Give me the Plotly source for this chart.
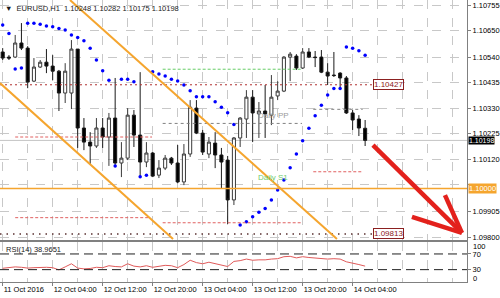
import plotly.graph_objects as go

# ---------------- data ----------------
bars = list(range(59))  # hourly bars, 11 Oct 20:00 -> 14 Oct 06:00

open_ = [1.10562, 1.10541, 1.10541, 1.10599, 1.10578, 1.10442, 1.10500, 1.10520, 1.10504, 1.10483,
         1.10393, 1.10393, 1.10574, 1.10249, 1.10191, 1.10175, 1.10249, 1.10212, 1.10290, 1.10105,
         1.10125, 1.10302, 1.10220, 1.10109, 1.10146, 1.10055, 1.10084, 1.10125, 1.10105, 1.10027,
         1.10142, 1.10331, 1.10228, 1.10142, 1.10187, 1.10138, 1.10117, 1.09953, 1.10208, 1.10286,
         1.10376, 1.10307, 1.10319, 1.10302, 1.10381, 1.10401, 1.10541, 1.10545, 1.10496, 1.10562,
         1.10541, 1.10541, 1.10479, 1.10467, 1.10475, 1.10455, 1.10311, 1.10286, 1.10248]
high = [1.10578, 1.10549, 1.10632, 1.10681, 1.10586, 1.10537, 1.10529, 1.10574, 1.10549, 1.10488,
        1.10516, 1.10611, 1.10574, 1.10290, 1.10232, 1.10290, 1.10290, 1.10311, 1.10455, 1.10191,
        1.10331, 1.10323, 1.10479, 1.10191, 1.10150, 1.10117, 1.10138, 1.10130, 1.10179, 1.10183,
        1.10364, 1.10364, 1.10241, 1.10212, 1.10232, 1.10167, 1.10134, 1.10212, 1.10294, 1.10405,
        1.10405, 1.10356, 1.10426, 1.10467, 1.10442, 1.10545, 1.10562, 1.10553, 1.10578, 1.10578,
        1.10566, 1.10570, 1.10516, 1.10562, 1.10479, 1.10463, 1.10323, 1.10302, 1.10282]
low = [1.10529, 1.10529, 1.10537, 1.10570, 1.10413, 1.10438, 1.10496, 1.10475, 1.10446, 1.10319,
       1.10352, 1.10327, 1.10167, 1.10158, 1.10101, 1.10167, 1.10167, 1.10093, 1.10088, 1.10047,
       1.10117, 1.10171, 1.10047, 1.10088, 1.10047, 1.10043, 1.10076, 1.10097, 1.10022, 1.10014,
       1.10130, 1.10224, 1.10138, 1.10125, 1.10084, 1.10002, 1.09854, 1.09932, 1.10171, 1.10208,
       1.10191, 1.10208, 1.10208, 1.10261, 1.10364, 1.10397, 1.10442, 1.10488, 1.10492, 1.10537,
       1.10500, 1.10475, 1.10426, 1.10459, 1.10413, 1.10307, 1.10241, 1.10216, 1.10175]
close = [1.10537, 1.10537, 1.10599, 1.10578, 1.10438, 1.10500, 1.10520, 1.10504, 1.10483, 1.10393,
         1.10483, 1.10574, 1.10249, 1.10191, 1.10175, 1.10249, 1.10212, 1.10290, 1.10105, 1.10125,
         1.10302, 1.10220, 1.10109, 1.10146, 1.10051, 1.10084, 1.10125, 1.10105, 1.10027, 1.10142,
         1.10335, 1.10228, 1.10150, 1.10191, 1.10138, 1.10109, 1.09953, 1.10208, 1.10290, 1.10376,
         1.10311, 1.10319, 1.10307, 1.10376, 1.10401, 1.10541, 1.10553, 1.10496, 1.10562, 1.10541,
         1.10539, 1.10479, 1.10463, 1.10465, 1.10455, 1.10311, 1.10282, 1.10249, 1.10198]

sar = [1.10673, 1.10638, 1.10492, 1.10496, 1.10680, 1.10680, 1.10676, 1.10669, 1.10666, 1.10659,
       1.10652, 1.10632, 1.10622, 1.10608, 1.10577, 1.10529, 1.10485, 1.10446, 1.10093, 1.10450,
       1.10450, 1.10439, 1.10048, 1.10055, 1.10481, 1.10471, 1.10463, 1.10450, 1.10443, 1.10426,
       1.10402, 1.10378, 1.10378, 1.10378, 1.10357, 1.10335, 1.10312, 1.10264, 1.09850, 1.09863,
       1.09884, 1.09902, 1.09918, 1.09953, 1.09994, 1.10035, 1.10085, 1.10142, 1.10197, 1.10248,
       1.10299, 1.10343, 1.10385, 1.10412, 1.10412, 1.10583, 1.10577, 1.10567, 1.10549]

rsi = [33.5, 35.0, 37.0, 36.0, 34.0, 35.0, 36.0, 36.0, 35.0, 29.5,
       37.0, 45.0, 34.0, 32.0, 33.0, 36.0, 35.0, 40.0, 38.0, 37.0,
       45.0, 39.0, 37.0, 40.0, 36.0, 39.0, 41.0, 40.0, 35.0, 43.0,
       54.0, 48.0, 45.0, 49.0, 45.0, 43.0, 38.0, 51.0, 53.0, 57.0,
       54.0, 55.0, 55.0, 57.0, 58.0, 63.0, 64.0, 60.0, 63.0, 61.0,
       60.0, 58.0, 57.0, 58.0, 57.0, 50.0, 47.0, 43.0, 38.9651]

price_ticks = [1.10755, 1.10650, 1.10540, 1.10435, 1.10330, 1.10225, 1.10120, 1.10015, 1.09905, 1.09800]
hidden_price_ticks = [1.10015]  # covered by the 1.10000 price label in the reference
time_tick_bars = [0, 8, 16, 24, 32, 40, 48, 56]
time_tick_text = ["11 Oct 2016", "12 Oct 04:00", "12 Oct 12:00", "12 Oct 20:00",
                  "13 Oct 04:00", "13 Oct 12:00", "13 Oct 20:00", "14 Oct 04:00"]
rsi_ticks = [30, 70]
rsi_edge_ticks = [100, 0]
rsi_levels = [70, 30]

header = "▼  EURUSD,H1  1.10248 1.10282 1.10175 1.10198"
bid_price = 1.10198
round_level = 1.10000
hline_upper = 1.10427
hline_lower = 1.09813
# daily pivot segments: (start bar, end bar, price)
red_pivots = [(2.0, 23.9, 1.10212), (2.0, 23.6, 1.09880), (25.6, 47.9, 1.09859), (49.7, 57.6, 1.10069)]
gray_pivots = [(25.6, 47.9, 1.10268), (49.7, 57.6, 1.10326)]
green_pivots = [(25.6, 47.9, 1.10491)]
# channel lines (bar, price) pairs
channel_lines = [((-0.43, 1.10434), (27.26, 1.09792)), ((10.77, 1.10776), (53.49, 1.09792))]
arrow_segments = [((59.25, 1.10179), (73.49, 1.09817)),
                  ((70.77, 1.09973), (73.49, 1.09817)),
                  ((65.49, 1.09883), (73.49, 1.09817))]

X_RANGE = [-0.43, 74.3]
P_RANGE = [1.09788, 1.10776]
R_RANGE = [-1.5, 100.6]

FONT = "Liberation Sans, Arial, sans-serif"
ORANGE = "#f5a52e"

fig = go.Figure()
fig.add_trace(go.Candlestick(
    x=bars, open=open_, high=high, low=low, close=close,
    xaxis="x", yaxis="y", whiskerwidth=0,
    increasing=dict(line=dict(color="#3a3a3a", width=1), fillcolor="#ffffff"),
    decreasing=dict(line=dict(color="#1a1a1a", width=1), fillcolor="#000000"),
    showlegend=False, hoverinfo="skip"))
fig.add_trace(go.Scatter(x=bars, y=sar, mode="markers", xaxis="x", yaxis="y",
                         marker=dict(color="#0000ff", size=3.5), showlegend=False, hoverinfo="skip"))
fig.add_trace(go.Scatter(x=bars, y=rsi, mode="lines", xaxis="x2", yaxis="y2",
                         line=dict(color="#e05a5a", width=1), showlegend=False, hoverinfo="skip"))

shapes = []
shapes.append(dict(type="line", xref="x domain", yref="y", x0=0, x1=1, y0=bid_price, y1=bid_price,
                   line=dict(color="#c4c4c4", width=1), layer="below"))
shapes.append(dict(type="line", xref="x domain", yref="y", x0=0, x1=1, y0=round_level, y1=round_level,
                   line=dict(color=ORANGE, width=1.5)))
shapes.append(dict(type="line", xref="x", yref="y", x0=X_RANGE[0], x1=59.2, y0=hline_upper, y1=hline_upper,
                   line=dict(color="#b03030", width=1, dash="2px,3px")))
shapes.append(dict(type="line", xref="x", yref="y", x0=X_RANGE[0], x1=59.2, y0=hline_lower, y1=hline_lower,
                   line=dict(color="#5a3030", width=1.5, dash="1.5px,5px")))
for x0, x1, p in red_pivots:
    shapes.append(dict(type="line", xref="x", yref="y", x0=x0, x1=x1, y0=p, y1=p,
                       line=dict(color="#e06060", width=1, dash="3px,2px")))
for x0, x1, p in gray_pivots:
    shapes.append(dict(type="line", xref="x", yref="y", x0=x0, x1=x1, y0=p, y1=p,
                       line=dict(color="#808080", width=1, dash="3px,3px")))
for x0, x1, p in green_pivots:
    shapes.append(dict(type="line", xref="x", yref="y", x0=x0, x1=x1, y0=p, y1=p,
                       line=dict(color="#66cc66", width=1, dash="3px,2px")))
for (xa, pa), (xb, pb) in channel_lines:
    shapes.append(dict(type="line", xref="x", yref="y", x0=xa, y0=pa, x1=xb, y1=pb,
                       line=dict(color=ORANGE, width=2)))
for (xa, pa), (xb, pb) in arrow_segments:
    shapes.append(dict(type="line", xref="x", yref="y", x0=xa, y0=pa, x1=xb, y1=pb,
                       line=dict(color="#e3211c", width=4.5)))
for lv in rsi_levels:
    shapes.append(dict(type="line", xref="x2 domain", yref="y2", x0=0, x1=1, y0=lv, y1=lv,
                       line=dict(color="#202020", width=1, dash="9px,5px")))

axis_font = dict(family=FONT, size=7.5, color="#000000")
annotations = []
annotations.append(dict(text=header, xref="paper", yref="paper", x=0.006, y=1, xanchor="left", yanchor="top",
                        yshift=-2, showarrow=False, font=dict(family=FONT, size=7.5, color="#1a1a1a")))
annotations.append(dict(text=f"{bid_price:.5f}", xref="x domain", yref="y", x=1, y=bid_price,
                        xanchor="left", yanchor="middle", xshift=1, showarrow=False, bgcolor="#000000",
                        borderpad=0, font=dict(family=FONT, size=7, color="#ffffff")))
annotations.append(dict(text=f"{round_level:.5f}", xref="x domain", yref="y", x=1, y=round_level,
                        xanchor="left", yanchor="middle", xshift=1, showarrow=False, bgcolor=ORANGE,
                        borderpad=0, font=dict(family=FONT, size=7.5, color="#ffffff")))
for p in (hline_upper, hline_lower):
    annotations.append(dict(text=f"{p:.5f}", xref="x", yref="y", x=59.2, y=p, xanchor="left",
                            yanchor="middle", showarrow=False, bgcolor="#ffffff", bordercolor="#8b2020",
                            borderwidth=1, borderpad=0, font=dict(family=FONT, size=8, color="#8b2020")))
annotations.append(dict(text="Daily PP", xref="x", yref="y", x=40.5, y=1.10302, xanchor="left",
                        yanchor="middle", showarrow=False, font=dict(family=FONT, size=8, color="#9a9a9a")))
annotations.append(dict(text="Daily S1", xref="x", yref="y", x=40.5, y=1.10047, xanchor="left",
                        yanchor="middle", showarrow=False, font=dict(family=FONT, size=8, color="#70cc70")))
annotations.append(dict(text=f"RSI(14) {rsi[-1]:.4f}", xref="x2 domain", yref="y2 domain", x=0.008, y=1,
                        xanchor="left", yanchor="top", yshift=-1, showarrow=False,
                        font=dict(family=FONT, size=7.5, color="#1a1a1a")))
# RSI 100 / 0 labels sit just inside the panel edges, as in the reference
annotations.append(dict(text=str(rsi_edge_ticks[0]), xref="x2 domain", yref="y2", x=1, y=rsi_edge_ticks[0],
                        xanchor="left", yanchor="middle", xshift=4, yshift=-4, showarrow=False, font=axis_font))
annotations.append(dict(text=str(rsi_edge_ticks[1]), xref="x2 domain", yref="y2", x=1, y=rsi_edge_ticks[1],
                        xanchor="left", yanchor="middle", xshift=4, yshift=3, showarrow=False, font=axis_font))

fig.update_layout(
    width=500, height=298, margin=dict(l=0, r=0, t=0, b=0, autoexpand=False),
    paper_bgcolor="#ffffff", plot_bgcolor="#ffffff", showlegend=False,
    shapes=shapes, annotations=annotations,
    xaxis=dict(domain=[0, 0.934], range=X_RANGE, anchor="y", rangeslider=dict(visible=False),
               tickvals=time_tick_bars, showticklabels=False, ticks="", showgrid=True,
               gridcolor="#c8c8c8", griddash="dash", zeroline=False, automargin=False,
               minor=dict(dtick=4, tick0=0, showgrid=True, gridcolor="#c8c8c8", griddash="dash"),
               showline=True, linecolor="#808080", mirror=True, fixedrange=True),
    yaxis=dict(domain=[0.1946, 1], range=P_RANGE, anchor="x", side="right",
               tickvals=price_ticks,
               ticktext=["" if p in hidden_price_ticks else f"{p:.5f}" for p in price_ticks],
               ticks="outside", ticklen=3, tickcolor="#808080", tickfont=axis_font, automargin=False,
               showgrid=True, gridcolor="#c8c8c8", griddash="dash", zeroline=False,
               showline=True, linecolor="#808080", mirror=True, fixedrange=True),
    xaxis2=dict(domain=[0, 0.934], range=X_RANGE, anchor="y2", matches="x",
                tickvals=time_tick_bars, ticktext=time_tick_text, ticks="outside", ticklen=3,
                tickangle=0, automargin=False,
                tickcolor="#808080", tickfont=axis_font, ticklabelposition="outside right",
                showgrid=True, gridcolor="#c8c8c8", griddash="dash", zeroline=False,
                minor=dict(dtick=4, tick0=0, showgrid=True, gridcolor="#c8c8c8", griddash="dash"),
                showline=True, linecolor="#808080", mirror=True, fixedrange=True),
    yaxis2=dict(domain=[0.0537, 0.188], range=R_RANGE, anchor="x2", side="right",
                tickvals=rsi_ticks, ticks="outside", ticklen=3, tickcolor="#808080", tickfont=axis_font,
                automargin=False,
                showgrid=False, zeroline=False, showline=True, linecolor="#808080", mirror=True,
                fixedrange=True),
)

fig.write_html("out.html")
